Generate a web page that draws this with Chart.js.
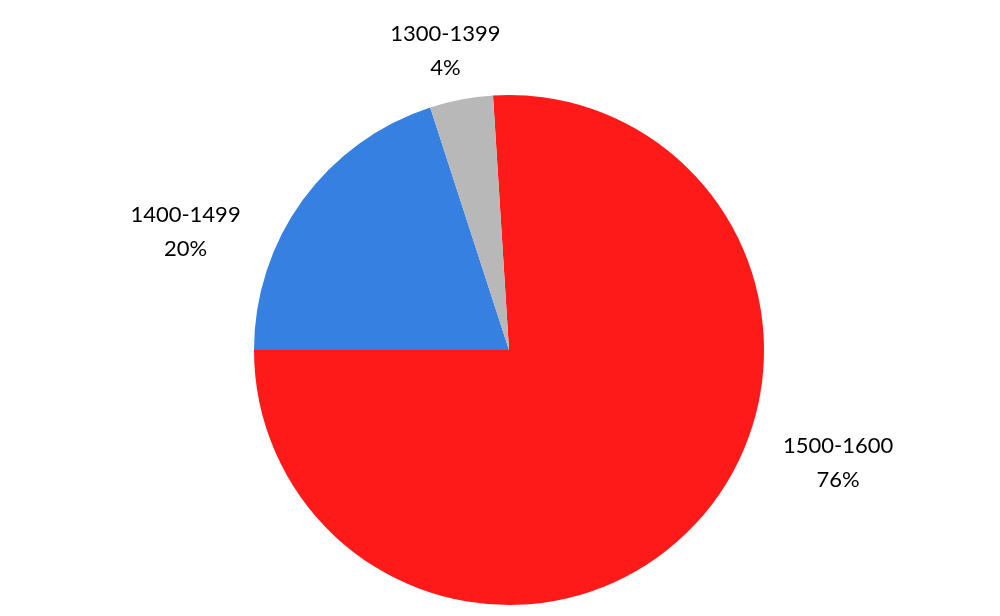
<!DOCTYPE html>
<html>
<head>
<meta charset="utf-8">
<style>
  html, body { margin: 0; padding: 0; background: #fff; }
  #wrap { width: 1000px; height: 616px; position: relative; }
</style>
<script src="https://cdn.jsdelivr.net/npm/chart.js@4/dist/chart.umd.min.js"></script>
</head>
<body>
<div id="wrap"><canvas id="pie"></canvas></div>
<script>
'use strict';

// data
var CATEGORIES = ['1500-1600', '1400-1499', '1300-1399'];
var SHARES     = [76, 20, 4];

// styles
var SLICE_COLORS = ['#ff1a1a', '#3580e0', '#b8b8b8'];
// label placement: angle (deg, clockwise from top) and distance as a multiple of the radius
var LABEL_ANGLE = [109, 290, 348];
var LABEL_DIST  = [1.365, 1.35, 1.2];

var outsideLabels = {
  id: 'outsideLabels',
  afterDatasetsDraw: function (chart) {
    var ctx = chart.ctx;
    var meta = chart.getDatasetMeta(0);
    ctx.save();
    ctx.font = '22px Lato, "Open Sans", sans-serif';
    ctx.fillStyle = '#000';
    ctx.textAlign = 'center';
    ctx.textBaseline = 'middle';
    meta.data.forEach(function (arc, i) {
      var a = LABEL_ANGLE[i] * Math.PI / 180;
      var d = arc.outerRadius * LABEL_DIST[i];
      var x = arc.x + d * Math.sin(a);
      var y = arc.y - d * Math.cos(a);
      ctx.fillText(CATEGORIES[i], x, y - 17);
      ctx.fillText(SHARES[i] + '%', x, y + 17);
    });
    ctx.restore();
  }
};

new Chart(document.getElementById('pie'), {
  type: 'pie',
  data: {
    labels: CATEGORIES,
    datasets: [{
      data: SHARES,
      backgroundColor: SLICE_COLORS,
      borderWidth: 0
    }]
  },
  options: {
    responsive: true,
    maintainAspectRatio: false,
    animation: false,
    rotation: -3.6,
    layout: { padding: { top: 95, bottom: 11, left: 18, right: 0 } },
    plugins: {
      legend: { display: false },
      tooltip: { enabled: false }
    }
  },
  plugins: [outsideLabels]
});
</script>
</body>
</html>
